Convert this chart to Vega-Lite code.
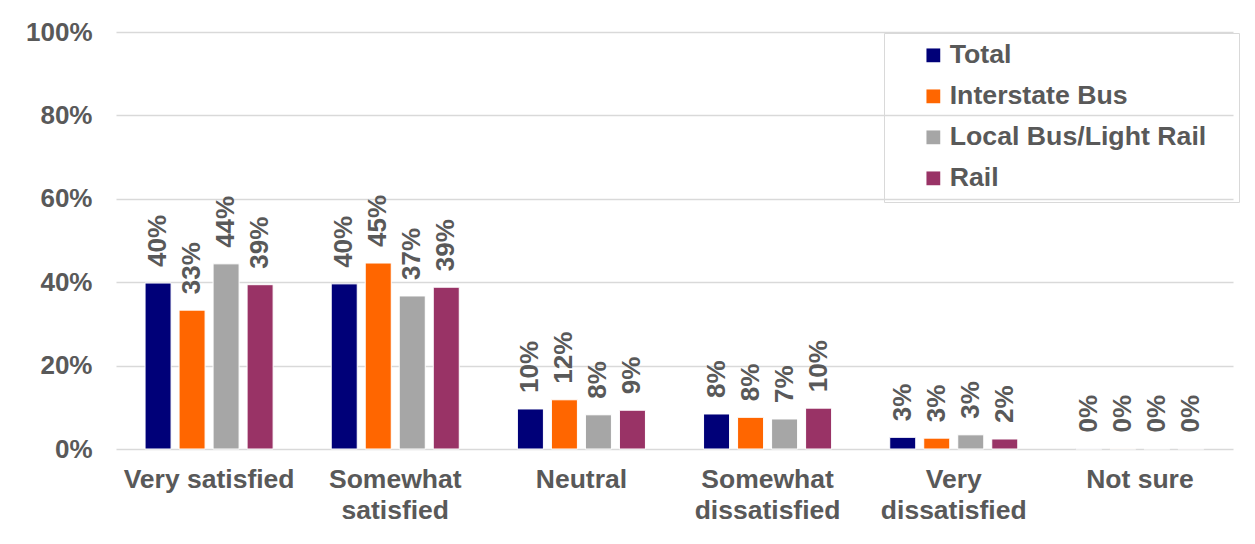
{
  "$schema": "https://vega.github.io/schema/vega-lite/v6.json",
  "width": 1117,
  "height": 417,
  "autosize": {"type": "none"},
  "padding": {"left": 116, "top": 32, "right": 22, "bottom": 95},
  "background": "white",
  "config": {
    "view": {"stroke": null},
    "font": "Liberation Sans"
  },
  "data": {
    "values": [
      {"response": "Very satisfied", "mode": "Total", "value": 0.398},
      {"response": "Very satisfied", "mode": "Interstate Bus", "value": 0.333},
      {"response": "Very satisfied", "mode": "Local Bus/Light Rail", "value": 0.444},
      {"response": "Very satisfied", "mode": "Rail", "value": 0.394},
      {"response": "Somewhat satisfied", "mode": "Total", "value": 0.396},
      {"response": "Somewhat satisfied", "mode": "Interstate Bus", "value": 0.446},
      {"response": "Somewhat satisfied", "mode": "Local Bus/Light Rail", "value": 0.367},
      {"response": "Somewhat satisfied", "mode": "Rail", "value": 0.388},
      {"response": "Neutral", "mode": "Total", "value": 0.096},
      {"response": "Neutral", "mode": "Interstate Bus", "value": 0.118},
      {"response": "Neutral", "mode": "Local Bus/Light Rail", "value": 0.082},
      {"response": "Neutral", "mode": "Rail", "value": 0.093},
      {"response": "Somewhat dissatisfied", "mode": "Total", "value": 0.084},
      {"response": "Somewhat dissatisfied", "mode": "Interstate Bus", "value": 0.076},
      {"response": "Somewhat dissatisfied", "mode": "Local Bus/Light Rail", "value": 0.072},
      {"response": "Somewhat dissatisfied", "mode": "Rail", "value": 0.098},
      {"response": "Very dissatisfied", "mode": "Total", "value": 0.028},
      {"response": "Very dissatisfied", "mode": "Interstate Bus", "value": 0.026},
      {"response": "Very dissatisfied", "mode": "Local Bus/Light Rail", "value": 0.034},
      {"response": "Very dissatisfied", "mode": "Rail", "value": 0.024},
      {"response": "Not sure", "mode": "Total", "value": 0.001},
      {"response": "Not sure", "mode": "Interstate Bus", "value": 0.001},
      {"response": "Not sure", "mode": "Local Bus/Light Rail", "value": 0.001},
      {"response": "Not sure", "mode": "Rail", "value": 0.001}
    ]
  },
  "encoding": {
    "x": {
      "field": "response",
      "type": "nominal",
      "sort": ["Very satisfied", "Somewhat satisfied", "Neutral", "Somewhat dissatisfied", "Very dissatisfied", "Not sure"],
      "scale": {"paddingInner": 0.25, "paddingOuter": 0.125},
      "axis": {
        "title": null,
        "labelAngle": 0,
        "domain": false,
        "ticks": false,
        "labelPadding": 17,
        "labelFont": "Liberation Sans",
        "labelFontSize": 26.5,
        "labelFontWeight": "bold",
        "labelColor": "#595959",
        "labelLineHeight": 31,
        "labelLimit": 300,
        "labelExpr": "datum.value == 'Somewhat satisfied' ? ['Somewhat', 'satisfied'] : datum.value == 'Somewhat dissatisfied' ? ['Somewhat', 'dissatisfied'] : datum.value == 'Very dissatisfied' ? ['Very', 'dissatisfied'] : datum.label"
      }
    },
    "xOffset": {
      "field": "mode",
      "type": "nominal",
      "sort": ["Total", "Interstate Bus", "Local Bus/Light Rail", "Rail"],
      "scale": {"paddingInner": 0.235, "paddingOuter": 0.17}
    },
    "y": {
      "field": "value",
      "type": "quantitative",
      "scale": {"domain": [0, 1]},
      "axis": {
        "title": null,
        "format": ".0%",
        "values": [0, 0.2, 0.4, 0.6, 0.8, 1],
        "domain": false,
        "ticks": false,
        "labelPadding": 24,
        "labelFont": "Liberation Sans",
        "labelFontSize": 26,
        "labelFontWeight": "bold",
        "labelColor": "#595959",
        "gridColor": "#d9d9d9",
        "gridWidth": 1.5
      }
    }
  },
  "layer": [
    {
      "mark": {"type": "bar", "stroke": "white", "strokeWidth": 1},
      "encoding": {
        "color": {
          "field": "mode",
          "type": "nominal",
          "sort": ["Total", "Interstate Bus", "Local Bus/Light Rail", "Rail"],
          "scale": {
            "domain": ["Total", "Interstate Bus", "Local Bus/Light Rail", "Rail"],
            "range": ["#000078", "#FF6600", "#A6A6A6", "#993366"]
          },
          "legend": {
            "title": "\u00a0",
            "titleOrient": "right",
            "titlePadding": 24,
            "titleFontSize": 10,
            "orient": "none",
            "legendX": 768,
            "legendY": 1,
            "padding": 9,
            "symbolOffset": 27,
            "strokeColor": "#d9d9d9",
            "fillColor": null,
            "symbolType": "square",
            "symbolSize": 190,
            "symbolStrokeWidth": 0,
            "labelFont": "Liberation Sans",
            "labelFontSize": 26.7,
            "labelFontWeight": "bold",
            "labelColor": "#595959",
            "labelOffset": 3,
            "labelLimit": 400,
            "rowPadding": 13
          }
        }
      }
    },
    {
      "mark": {
        "type": "text",
        "angle": -90,
        "align": "left",
        "baseline": "middle",
        "dx": 16,
        "font": "Liberation Sans",
        "fontSize": 26,
        "fontWeight": "bold",
        "color": "#595959"
      },
      "encoding": {
        "text": {"field": "value", "type": "quantitative", "format": ".0%"}
      }
    }
  ]
}
